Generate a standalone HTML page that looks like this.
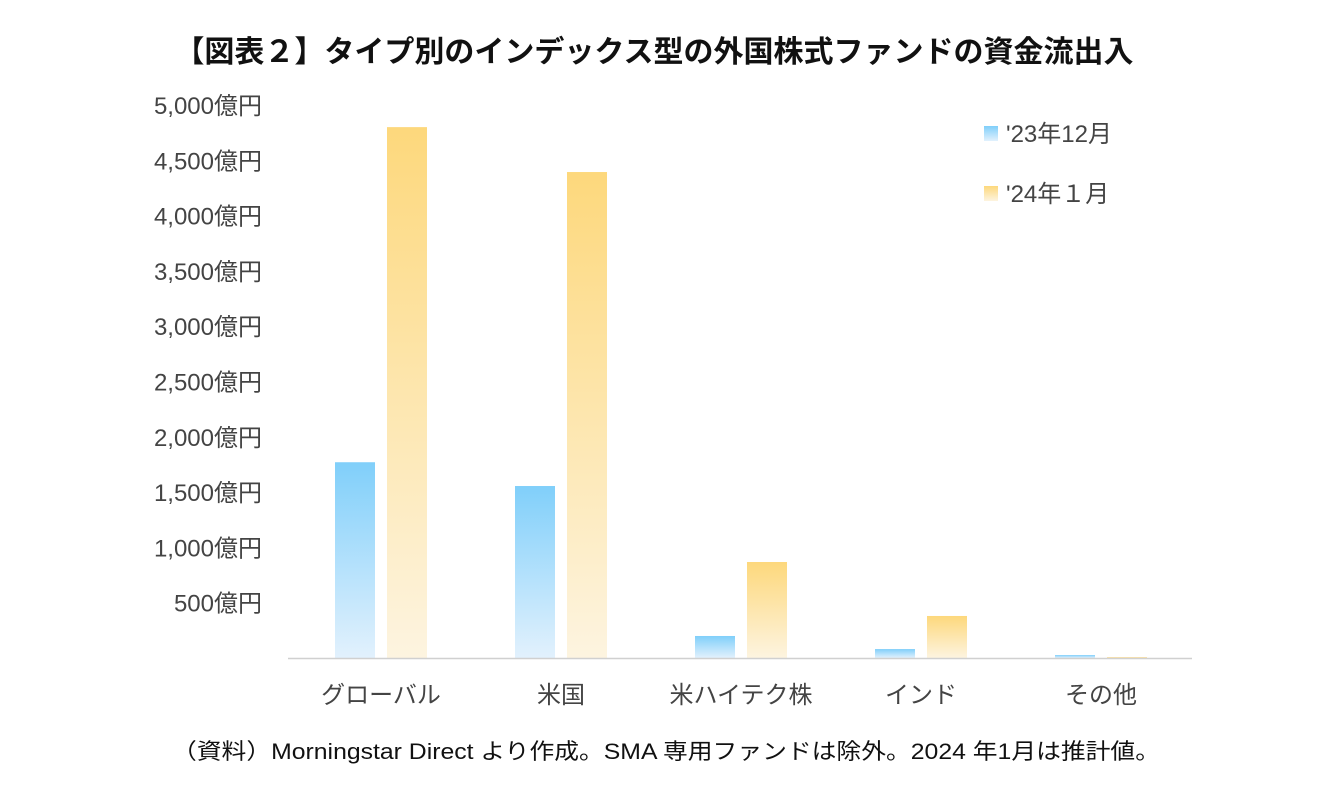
<!DOCTYPE html>
<html><head><meta charset="utf-8"><style>
body{margin:0;width:1330px;height:798px;background:#fff;overflow:hidden;font-family:"Liberation Sans","Noto Sans CJK JP",sans-serif;}
</style></head><body>
<svg width="1330" height="798" font-family="Liberation Sans, Noto Sans CJK JP, sans-serif">
<defs>
<linearGradient id="gb" x1="0" y1="0" x2="0" y2="1"><stop offset="0" stop-color="#80cffa"/><stop offset="1" stop-color="#e2f1fd"/></linearGradient>
<linearGradient id="gy" x1="0" y1="0" x2="0" y2="1"><stop offset="0" stop-color="#fdd87c"/><stop offset="1" stop-color="#fdf4e0"/></linearGradient>
</defs>
<text x="654" y="62" text-anchor="middle" font-size="30" font-weight="bold" fill="#111">【図表２】タイプ別のインデックス型の外国株式ファンドの資金流出入</text>
<g id="yaxis"></g>
<g id="bars"></g>
<line x1="288" y1="658.5" x2="1192" y2="658.5" stroke="#d0d0d0" stroke-width="1.5"/>
<g id="xaxis"></g>
<g>
<rect x="984" y="126" width="14" height="15" fill="url(#gb)"/>
<text x="1006" y="142" font-size="24" fill="#444">'23年12月</text>
<rect x="984" y="186" width="14" height="15" fill="url(#gy)"/>
<text x="1006" y="202" font-size="24" fill="#444">'24年１月</text>
</g>
<text x="172" y="759" textLength="988" lengthAdjust="spacingAndGlyphs" font-size="22" fill="#111">（資料）Morningstar Direct より作成。SMA 専用ファンドは除外。2024 年1月は推計値。</text>
</svg>
<script>
const categories=["グローバル","米国","米ハイテク株","インド","その他"];
const dec23=[1770,1555,199,81,27];
const jan24=[4800,4394,868,380,9];
const yTicks=[500,1000,1500,2000,2500,3000,3500,4000,4500,5000];
const NS="http://www.w3.org/2000/svg";
const y0=658,pxPer=(658-105)/5000;
const yS=v=>y0-v*pxPer;
const xC=i=>381+i*180;
const ya=document.getElementById('yaxis'),ba=document.getElementById('bars'),xa=document.getElementById('xaxis');
yTicks.forEach(t=>{const e=document.createElementNS(NS,'text');
e.setAttribute('x',262);e.setAttribute('y',yS(t)+9);e.setAttribute('text-anchor','end');e.setAttribute('font-size','24');e.setAttribute('fill','#444');
e.textContent=t.toLocaleString('en-US')+'億円';


ya.appendChild(e);});
categories.forEach((c,i)=>{
[[dec23,'url(#gb)',-46,'bar-dec23'],[jan24,'url(#gy)',6,'bar-jan24']].forEach(([arr,f,off,nm])=>{
const r=document.createElementNS(NS,'rect');const v=arr[i];
r.setAttribute('x',xC(i)+off);r.setAttribute('width',40);r.setAttribute('y',yS(v));r.setAttribute('height',Math.max(0,y0-yS(v)));r.setAttribute('fill',f);


ba.appendChild(r);});
const t=document.createElementNS(NS,'text');
t.setAttribute('x',xC(i));t.setAttribute('y',703);t.setAttribute('text-anchor','middle');t.setAttribute('font-size','24');t.setAttribute('fill','#444');
t.textContent=c;


xa.appendChild(t);});
</script>
</body></html>
